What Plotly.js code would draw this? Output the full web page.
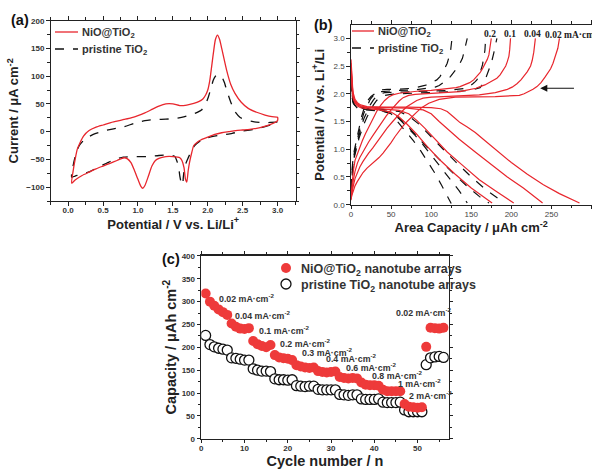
<!DOCTYPE html>
<html><head><meta charset="utf-8">
<script src="https://cdn.plot.ly/plotly-3.0.1.min.js"></script>
<style>html,body{margin:0;padding:0;background:#fff}#chart{width:592px;height:471px}</style>
</head><body><div id="chart"></div>
<script>
// ---------- Panel (a): cyclic voltammograms ----------
const cvPotNiO = [0.05,0.07,0.1,0.13,0.17,0.22,0.3,0.4,0.5,0.6,0.7,0.8,0.9,1.0,1.1,1.2,1.3,1.4,1.5,1.6,1.7,1.8,1.87,1.93,1.97,2.0,2.03,2.08,2.11,2.14,2.17,2.2,2.27,2.33,2.39,2.48,2.58,2.7,2.82,2.92,3.0,
  3.0,2.9,2.8,2.7,2.6,2.5,2.4,2.3,2.2,2.1,2.0,1.9,1.85,1.8,1.77,1.74,1.72,1.7,1.68,1.66,1.63,1.6,1.5,1.4,1.3,1.25,1.2,1.15,1.1,1.07,1.04,1.0,0.95,0.9,0.85,0.8,0.7,0.6,0.5,0.4,0.3,0.2,0.1,0.05];
const cvCurNiO = [-93,-72,-50,-32,-20,-8,2,8,12,16,19,22,25,29,34,40,46,50,50,47,48,51,54,59,66,75,93,141,166,174,166,150,111,85,69,53,42,35,30,27,26,
  20,13,9,6,4,3,2,0,-2,-5,-10,-15,-19,-25,-38,-55,-70,-91,-85,-65,-52,-47,-45,-45,-48,-52,-62,-80,-97,-102,-98,-86,-70,-56,-49,-47,-52,-57,-62,-67,-73,-79,-87,-93];
const cvPotTiO = [0.05,0.07,0.1,0.12,0.16,0.22,0.3,0.36,0.5,0.65,0.8,0.95,1.1,1.25,1.4,1.55,1.67,1.8,1.91,1.97,2.01,2.05,2.08,2.11,2.15,2.2,2.24,2.27,2.33,2.39,2.46,2.54,2.65,2.82,3.0,
  3.0,2.9,2.82,2.7,2.5,2.35,2.15,2.0,1.9,1.82,1.78,1.75,1.71,1.67,1.65,1.64,1.62,1.6,1.58,1.55,1.53,1.46,1.3,1.13,0.95,0.79,0.65,0.55,0.43,0.31,0.2,0.1,0.05];
const cvCurTiO = [-82,-62,-45,-36,-25,-16,-9,-5,1,5,9,15,20,22,22.5,24,27,32,39,50,63,80,93,100,103,99,88,75,53,36,26,21,18,16,17,
  15,12,9,5,1,-3,-7,-11,-16,-24,-31,-39,-50,-63,-82,-96,-92,-80,-62,-50,-45,-42,-43,-45,-45,-46,-51,-57,-64,-72,-77,-80,-82];

// ---------- Panel (b): charge / discharge curves ----------
const rateLabels = ['0.2','0.1','0.04','0.02 mA·cm<sup>-2</sup>'];
// NiO@TiO2 discharge
const nioDis002Cap = [0,0.5,1,2,3,5,8,12,20,40,70,100,112,120,128,136,145,155,165,180,200,220,240,260,285];
const nioDis002V   = [2.62,2.45,2.3,2.12,2.0,1.9,1.84,1.8,1.77,1.76,1.76,1.75,1.73,1.68,1.58,1.48,1.4,1.3,1.18,1.0,0.76,0.55,0.36,0.2,0.03];
const nioDis004Cap = [0,0.5,1,2,3,5,8,12,20,40,70,90,100,110,120,135,155,175,195,215,239];
const nioDis004V   = [2.55,2.38,2.22,2.05,1.95,1.87,1.82,1.78,1.76,1.75,1.74,1.71,1.64,1.5,1.37,1.18,0.95,0.72,0.5,0.3,0.03];
const nioDis01Cap  = [0,0.5,1,2,3,5,8,12,20,40,60,72,82,92,105,120,140,160,180,203];
const nioDis01V    = [2.5,2.32,2.16,2.0,1.92,1.85,1.8,1.77,1.75,1.73,1.70,1.64,1.52,1.38,1.18,0.95,0.7,0.45,0.25,0.03];
const nioDis02Cap  = [0,0.5,1,2,3,5,8,12,20,35,50,60,70,82,95,110,130,150,176];
const nioDis02V    = [2.45,2.27,2.12,1.97,1.9,1.83,1.78,1.75,1.73,1.71,1.67,1.58,1.45,1.27,1.05,0.82,0.55,0.3,0.03];
// NiO@TiO2 charge
const nioCha002Cap = [0,1,3,5,8,11,15,20,25,30,35,40,45,50,55,60,65,70,76,82,88,97,110,130,180,200,210,216,222,227,232,237,242,246,249,252,255,258,260];
const nioCha002V   = [0.08,0.17,0.25,0.34,0.42,0.5,0.58,0.66,0.72,0.79,0.85,0.93,1.02,1.12,1.23,1.33,1.42,1.5,1.59,1.67,1.75,1.83,1.9,1.94,1.95,1.96,1.97,2.0,2.04,2.08,2.13,2.2,2.3,2.38,2.45,2.55,2.68,2.82,3.0];
const nioCha004Cap = [0,1,3,5,8,11,15,18,22,27,32,38,45,52,58,64,70,76,82,90,100,115,130,160,180,188,195,201,207,212,216,220,224,226,228,230];
const nioCha004V   = [0.1,0.2,0.35,0.47,0.58,0.68,0.78,0.85,0.93,1.02,1.12,1.25,1.38,1.5,1.6,1.69,1.77,1.83,1.88,1.92,1.94,1.95,1.96,1.98,2.02,2.05,2.08,2.12,2.18,2.25,2.32,2.4,2.5,2.6,2.75,3.0];
const nioCha01Cap  = [0,1,3,5,8,11,14,18,22,27,32,38,44,50,55,60,65,72,80,95,110,125,136,143,150,156,161,167,172,177,182,186,190,193,195,197,198,199];
const nioCha01V    = [0.12,0.28,0.45,0.6,0.75,0.85,0.93,1.03,1.13,1.24,1.35,1.48,1.6,1.71,1.8,1.87,1.93,1.97,1.99,2.0,2.01,2.02,2.04,2.06,2.08,2.1,2.13,2.16,2.2,2.24,2.28,2.34,2.42,2.5,2.58,2.68,2.8,3.0];
const nioCha02Cap  = [0,1,2,3,5,8,11,14,18,22,27,32,37,42,47,52,60,70,85,100,115,125,131,136,142,148,153,157,161,164,167,170,172,173,174,175];
const nioCha02V    = [0.15,0.32,0.5,0.62,0.8,0.93,1.05,1.15,1.28,1.4,1.55,1.68,1.79,1.88,1.94,1.98,2.01,2.03,2.05,2.06,2.08,2.1,2.11,2.13,2.16,2.2,2.25,2.31,2.38,2.45,2.53,2.62,2.7,2.8,2.9,3.0];
// pristine TiO2 discharge
const tioDisACap = [0,0.5,1,2,3,5,8,12,20,40,60,72,85,100,115,130,150,170,192];
const tioDisAV   = [2.35,2.18,2.05,1.94,1.88,1.82,1.78,1.76,1.74,1.72,1.68,1.6,1.45,1.22,1.0,0.78,0.5,0.25,0.03];
const tioDisBCap = [0,0.5,1,2,3,5,8,12,20,40,55,65,78,92,108,125,145,160,172];
const tioDisBV   = [2.3,2.13,2.0,1.91,1.86,1.8,1.76,1.74,1.73,1.7,1.62,1.5,1.3,1.08,0.85,0.6,0.33,0.15,0.03];
const tioDisCCap = [0,0.5,1,2,3,5,8,12,20,35,50,60,70,80,90,100,112,124,135,145];
const tioDisCV   = [2.25,2.08,1.97,1.89,1.84,1.79,1.75,1.73,1.72,1.70,1.66,1.55,1.4,1.25,1.08,0.9,0.68,0.45,0.25,0.03];
const tioDisDCap = [0,0.5,1,2,3,5,8,12,20,30,40,50,60,70,78,87,97,105,113,119,125];
const tioDisDV   = [2.2,2.05,1.95,1.87,1.82,1.78,1.74,1.72,1.71,1.70,1.68,1.64,1.47,1.3,1.15,0.97,0.75,0.56,0.35,0.18,0.02];
// pristine TiO2 charge
const tioChaACap = [0,1,2,4,6,8,10,13,16,20,24,28,32,37,42,50,60,100,130,148,155,161,166,170,173,175,178,180,182];
const tioChaAV   = [0.2,0.42,0.6,0.85,0.95,1.08,1.2,1.33,1.45,1.58,1.7,1.8,1.88,1.94,1.97,1.99,2.0,2.02,2.04,2.06,2.08,2.11,2.2,2.37,2.47,2.55,2.73,2.85,3.0];
const tioChaBCap = [0,1,2,4,6,8,10,13,16,20,24,28,32,37,42,60,80,120,145,149,152,155,157,160,162,164,165,167,168];
const tioChaBV   = [0.22,0.45,0.65,0.88,1.0,1.14,1.28,1.42,1.55,1.68,1.8,1.89,1.96,2.0,2.02,2.03,2.04,2.06,2.1,2.14,2.18,2.22,2.25,2.33,2.42,2.52,2.61,2.78,3.0];
const tioChaCCap = [0,1,2,4,6,8,10,13,16,20,24,28,32,38,45,60,80,99,105,110,115,120,124,128,132,136,139,141,143,145];
const tioChaCV   = [0.25,0.48,0.7,0.92,1.05,1.2,1.35,1.5,1.65,1.78,1.9,1.97,2.02,2.04,2.05,2.06,2.07,2.1,2.12,2.15,2.2,2.25,2.31,2.38,2.46,2.55,2.64,2.75,2.86,3.0];
const tioChaDCap = [0,1,2,4,6,8,10,13,16,19,22,25,28,32,36,45,55,78,85,92,96,100,104,107,111,114,117,120,122,124,126];
const tioChaDV   = [0.3,0.53,0.75,0.97,1.1,1.27,1.42,1.58,1.72,1.82,1.9,1.95,1.98,2.03,2.07,2.08,2.08,2.1,2.12,2.15,2.17,2.2,2.23,2.25,2.31,2.38,2.46,2.55,2.64,2.75,3.0];

// ---------- Panel (c): rate capability ----------
const cycles = [1,2,3,4,5,6,7,8,9,10,11,12,13,14,15,16,17,18,19,20,21,22,23,24,25,26,27,28,29,30,31,32,33,34,35,36,37,38,39,40,41,42,43,44,45,46,47,48,49,50,51,52,53,54,55,56];
const nioCapacity = [318,300,291,283,277,271, 252,245,241,240,242, 214,207,203,200,205, 183,178,176,175,172, 161,158,156,155,156, 148,146,145,146,147, 135,133,132,133,132, 123,118,117,117,116, 107,104,104,104,104, 76,70,69,68,69, 201,243,242,241,243];
const tioCapacity = [226,206,201,198,196,194, 177,176,174,172,172, 153,150,148,148,147, 131,129,129,128,129, 116,115,114,115,115, 108,107,107,107,107, 97,96,95,96,96, 87,86,86,86,87, 80,79,79,79,80, 63,59,59,59,59, 162,177,179,180,178];
const rateNames = ['0.02','0.04','0.1','0.2','0.3','0.4','0.6','0.8','1','2','0.02'];
const rateLabelX = [3.6,7.3,12.8,17.8,22.8,28.4,33.0,39.1,45.1,47.5,44.6];
const rateLabelY = [309,270,239,210,189,176,157,139,122,96,277];

// legend texts
const seriesNames = ['NiO@TiO<sub>2</sub>','pristine TiO<sub>2</sub>'];
const seriesNamesC = ['NiO@TiO<sub>2</sub> nanotube arrays','pristine TiO<sub>2</sub> nanotube arrays'];

// ---------- build ----------
const W = 592, H = 471;
const RED = '#e8262d', BLK = '#111', DOTRED = '#ee3a3a';
const FONT = 'Liberation Sans, Arial, sans-serif';
const traces = [];
traces.push({x: cvPotTiO, y: cvCurTiO, xaxis:'x', yaxis:'y', mode:'lines', name:seriesNames[1],
  line:{color:BLK, width:1.3, dash:'dash', shape:'spline', smoothing:0.6}});
traces.push({x: cvPotNiO, y: cvCurNiO, xaxis:'x', yaxis:'y', mode:'lines', name:seriesNames[0],
  line:{color:RED, width:1.3, shape:'spline', smoothing:0.6}});

const tioB = [[tioDisACap,tioDisAV],[tioDisBCap,tioDisBV],[tioDisCCap,tioDisCV],[tioDisDCap,tioDisDV],
              [tioChaACap,tioChaAV],[tioChaBCap,tioChaBV],[tioChaCCap,tioChaCV],[tioChaDCap,tioChaDV]];
const nioB = [[nioDis002Cap,nioDis002V],[nioDis004Cap,nioDis004V],[nioDis01Cap,nioDis01V],[nioDis02Cap,nioDis02V],
              [nioCha002Cap,nioCha002V],[nioCha004Cap,nioCha004V],[nioCha01Cap,nioCha01V],[nioCha02Cap,nioCha02V]];
tioB.forEach((c)=>traces.push({x:c[0], y:c[1], xaxis:'x2', yaxis:'y2', mode:'lines', name:seriesNames[1],
  line:{color:BLK, width:1.2, dash:'dash'}}));
nioB.forEach((c)=>traces.push({x:c[0], y:c[1], xaxis:'x2', yaxis:'y2', mode:'lines', name:seriesNames[0],
  line:{color:RED, width:1.2}}));

traces.push({x:cycles, y:tioCapacity, xaxis:'x3', yaxis:'y3', mode:'markers', name:seriesNamesC[1],
  marker:{size:10, color:'#fff', line:{color:BLK, width:1.3}}});
traces.push({x:cycles, y:nioCapacity, xaxis:'x3', yaxis:'y3', mode:'markers', name:seriesNamesC[0],
  marker:{size:10, color:DOTRED}});

function ax(extra){
  return Object.assign({showline:true, linecolor:'#222', linewidth:1.2, mirror:'ticks', ticks:'outside', ticklen:3.5,
    tickwidth:1, tickcolor:'#222', showgrid:false, zeroline:false, automargin:false,
    tickfont:{family:FONT, size:8, color:'#333', weight:'bold'}}, extra);
}
const mnr = (d)=>({ticks:'outside', ticklen:2.5, dtick:d, tickwidth:1, tickcolor:'#222', showgrid:false});
const titleFont = (s)=>({family:FONT, size:s, color:'#222', weight:'bold'});
const px = (v)=>v/W, py = (v)=>1-v/H;

const annotations = [
  {xref:'paper', yref:'paper', x:px(9), y:py(20), xanchor:'left', yanchor:'middle', text:'<b>(a)</b>', showarrow:false, font:{family:FONT, size:14.5, color:'#111'}},
  {xref:'paper', yref:'paper', x:px(312), y:py(25), xanchor:'left', yanchor:'middle', text:'<b>(b)</b>', showarrow:false, font:{family:FONT, size:14.5, color:'#111'}},
  {xref:'paper', yref:'paper', x:px(160), y:py(259), xanchor:'left', yanchor:'middle', text:'<b>(c)</b>', showarrow:false, font:{family:FONT, size:14.5, color:'#111'}},
  {xref:'x2', yref:'y2', x:236, y:2.1, ax:280, ay:2.1, axref:'x2', ayref:'y2', text:'', showarrow:true, arrowhead:2, arrowsize:1.3, arrowwidth:1.1, arrowcolor:'#111'}
];
const shapes = [];
// manual legends (a) and (b)
const legAB = [{x0:55, x1:78, tx:80, y:[32,49]}, {x0:352, x1:374, tx:376, y:[31,48]}];
legAB.forEach(L=>{
  shapes.push({type:'line', xref:'paper', yref:'paper', x0:px(L.x0), x1:px(L.x1), y0:py(L.y[0]), y1:py(L.y[0]), line:{color:RED, width:1.3}});
  shapes.push({type:'line', xref:'paper', yref:'paper', x0:px(L.x0), x1:px(L.x1), y0:py(L.y[1]), y1:py(L.y[1]), line:{color:BLK, width:1.3, dash:'dash'}});
  seriesNames.forEach((t,i)=>annotations.push({xref:'paper', yref:'paper', x:px(L.tx), y:py(L.y[i]+1.5), xanchor:'left', yanchor:'middle',
    text:'<b>'+t+'</b>', showarrow:false, font:{family:FONT, size:11, color:'#333'}}));
});
// manual legend (c)
const legCy = [268, 284];
shapes.push({type:'circle', xref:'paper', yref:'paper', xsizemode:'pixel', ysizemode:'pixel', xanchor:px(286), yanchor:py(legCy[0]),
  x0:-5, x1:5, y0:-5, y1:5, fillcolor:DOTRED, line:{width:0}});
shapes.push({type:'circle', xref:'paper', yref:'paper', xsizemode:'pixel', ysizemode:'pixel', xanchor:px(286), yanchor:py(legCy[1]),
  x0:-5, x1:5, y0:-5, y1:5, fillcolor:'#fff', line:{color:BLK, width:1.3}});
seriesNamesC.forEach((t,i)=>annotations.push({xref:'paper', yref:'paper', x:px(299), y:py(legCy[i]+1.5), xanchor:'left', yanchor:'middle',
  text:'<b>'+t+'</b>', showarrow:false, font:{family:FONT, size:12.5, color:'#333'}}));

const rateX = [174,198,227,239];
rateLabels.forEach((t,i)=>annotations.push({xref:'x2', yref:'y2', x:rateX[i], y:3.08, xanchor: i===3?'left':'center', yanchor:'middle',
  text:'<b>'+t+'</b>', showarrow:false, font:{family:'Liberation Serif, Times New Roman, serif', size:9.5, color:'#222'}}));
rateNames.forEach((t,i)=>annotations.push({xref:'x3', yref:'y3', x:rateLabelX[i], y:rateLabelY[i], xanchor:'left', yanchor:'middle',
  text:'<b>'+t+' mA·cm<sup>-2</sup></b>', showarrow:false, font:{family:FONT, size:8.8, color:'#333'}}));

const layout = {
  width:W, height:H, margin:{l:0,r:0,t:0,b:0}, paper_bgcolor:'#fff', plot_bgcolor:'#fff', showlegend:false,
  font:{family:FONT},
  xaxis: ax({domain:[50.7/W, 295.7/W], range:[-0.25,3.26], dtick:0.5, tick0:0, tickformat:'.1f', minor:mnr(0.25), ticklabelstandoff:-2,
    anchor:'y', title:{text:'Potential / V vs. Li/Li<sup>+</sup>', font:titleFont(13), standoff:0}}),
  yaxis: ax({domain:[1-201/H, 1-20.7/H], range:[-125,200], dtick:50, minor:mnr(25),
    anchor:'x', title:{text:'Current / μA cm<sup>-2</sup>', font:titleFont(13), standoff:4}}),
  xaxis2: ax({domain:[351/W, 591.5/W], range:[0,300], dtick:50, minor:mnr(25), ticklabelstandoff:-2,
    tickfont:{family:FONT, size:8, color:'#444'},
    anchor:'y2', title:{text:'Area Capacity / μAh cm<sup>-2</sup>', font:titleFont(13), standoff:1}}),
  yaxis2: ax({domain:[1-204.7/H, 1-25/H], range:[0,3.24], dtick:0.5, tickformat:'.1f', minor:mnr(0.25),
    tickfont:{family:FONT, size:8, color:'#444'},
    anchor:'x2', title:{text:'Potential / V vs. Li<sup>+</sup>/Li', font:titleFont(13), standoff:6}}),
  xaxis3: ax({domain:[201.3/W, 448.7/W], range:[0,57.2], dtick:10, minor:mnr(5), ticklabelstandoff:-2,
    anchor:'y3', title:{text:'Cycle number / n', font:titleFont(14.5), standoff:3}}),
  yaxis3: ax({domain:[1-438.7/H, 1-255.5/H], range:[0,401], dtick:50, minor:mnr(25),
    anchor:'x3', title:{text:'Capacity / μAh cm<sup>-2</sup>', font:titleFont(14.5), standoff:1}}),
  annotations: annotations,
  shapes: shapes
};
Plotly.newPlot('chart', traces, layout, {displayModeBar:false, staticPlot:true});
</script></body></html>
